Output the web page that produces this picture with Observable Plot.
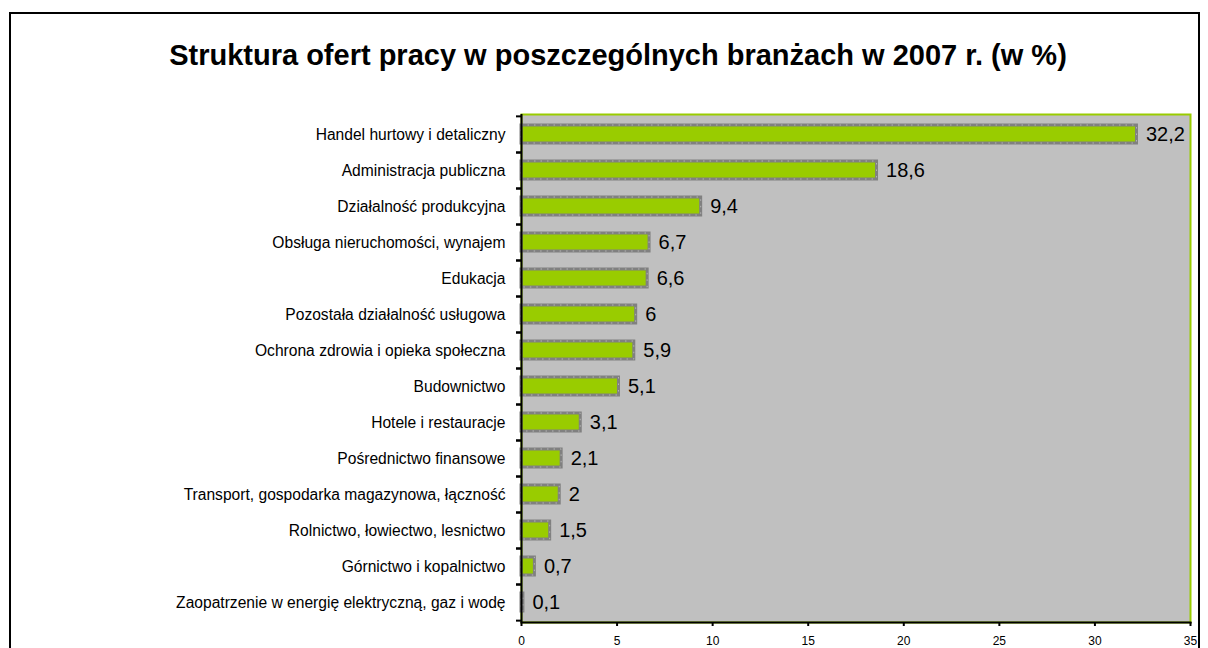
<!DOCTYPE html>
<html><head><meta charset="utf-8">
<script src="https://cdn.jsdelivr.net/npm/d3@7"></script>
<script src="https://cdn.jsdelivr.net/npm/@observablehq/plot@0.6"></script>
<style>
body{margin:0;background:#fff;font-family:"Liberation Sans",Arial,sans-serif;}
#wrap{position:relative;width:1208px;height:648px;overflow:hidden;}
#border{position:absolute;left:9px;top:12px;width:1191px;height:720px;border:2px solid #000;box-sizing:border-box;}
#title{position:absolute;left:0;top:38px;width:1236px;text-align:center;font-weight:bold;font-size:29px;line-height:34px;color:#000;}
#chart{position:absolute;left:0;top:100px;}
</style></head><body>
<div id="wrap"><div id="border"></div><div id="title">Struktura ofert pracy w poszczególnych branżach w 2007 r. (w %)</div><div id="chart"></div></div>
<script>
const categories = [
  "Handel hurtowy i detaliczny",
  "Administracja publiczna",
  "Działalność produkcyjna",
  "Obsługa nieruchomości, wynajem",
  "Edukacja",
  "Pozostała działalność usługowa",
  "Ochrona zdrowia i opieka społeczna",
  "Budownictwo",
  "Hotele i restauracje",
  "Pośrednictwo finansowe",
  "Transport, gospodarka magazynowa, łączność",
  "Rolnictwo, łowiectwo, lesnictwo",
  "Górnictwo i kopalnictwo",
  "Zaopatrzenie w energię elektryczną, gaz i wodę"
];
const values = [32.2, 18.6, 9.4, 6.7, 6.6, 6, 5.9, 5.1, 3.1, 2.1, 2, 1.5, 0.7, 0.1];
const xTicks = [0, 5, 10, 15, 20, 25, 30, 35];

const data = categories.map((c, i) => ({category: c, value: values[i], label: String(values[i]).replace(".", ",")}));

const W = 1208, H = 548, mT = 14, mB = 26, mL = 521, mR = 18;
const step = (H - mT - mB) / categories.length;

const chart = Plot.plot({
  width: W, height: H, marginTop: mT, marginBottom: mB, marginLeft: mL, marginRight: mR,
  style: {fontFamily: "'Liberation Sans', Arial, sans-serif", background: "transparent", color: "#000"},
  x: {domain: [0, 35], ticks: xTicks},
  y: {domain: categories, paddingInner: 0.5, paddingOuter: 0.25},
  marks: [
    Plot.frame({fill: "#C0C0C0", stroke: "#99CC00", strokeWidth: 2}),
    Plot.barX(data, {x: "value", y: "category", fill: "#99CC00", stroke: "#808080", strokeWidth: 3}),
    Plot.barX(data, {x: "value", y: "category", fill: "none", stroke: "#b4b4b4", strokeWidth: 1, strokeDasharray: "1.5,5"}),
    Plot.text(data, {x: "value", y: "category", text: "label", textAnchor: "start", dx: 9, fontSize: 20, fill: "#000"}),
    Plot.ruleX([0], {stroke: "#000", strokeWidth: 2}),
    Plot.frame({anchor: "bottom", stroke: "#000", strokeWidth: 2}),
    Plot.axisX({ticks: xTicks, tickSize: 4, tickPadding: 10, fontSize: 12, tickFormat: d => d, label: null, strokeWidth: 2}),
    Plot.axisY({tickSize: 0, tickPadding: 16, fontSize: 15.6, label: null}),
    Plot.axisY({text: null, tickSize: 5, dy: -step / 2, strokeWidth: 2, label: null}),
    Plot.axisY({text: null, tickSize: 5, dy: step / 2, strokeWidth: 2, label: null})
  ]
});
document.getElementById("chart").appendChild(chart);
</script>
</body></html>
